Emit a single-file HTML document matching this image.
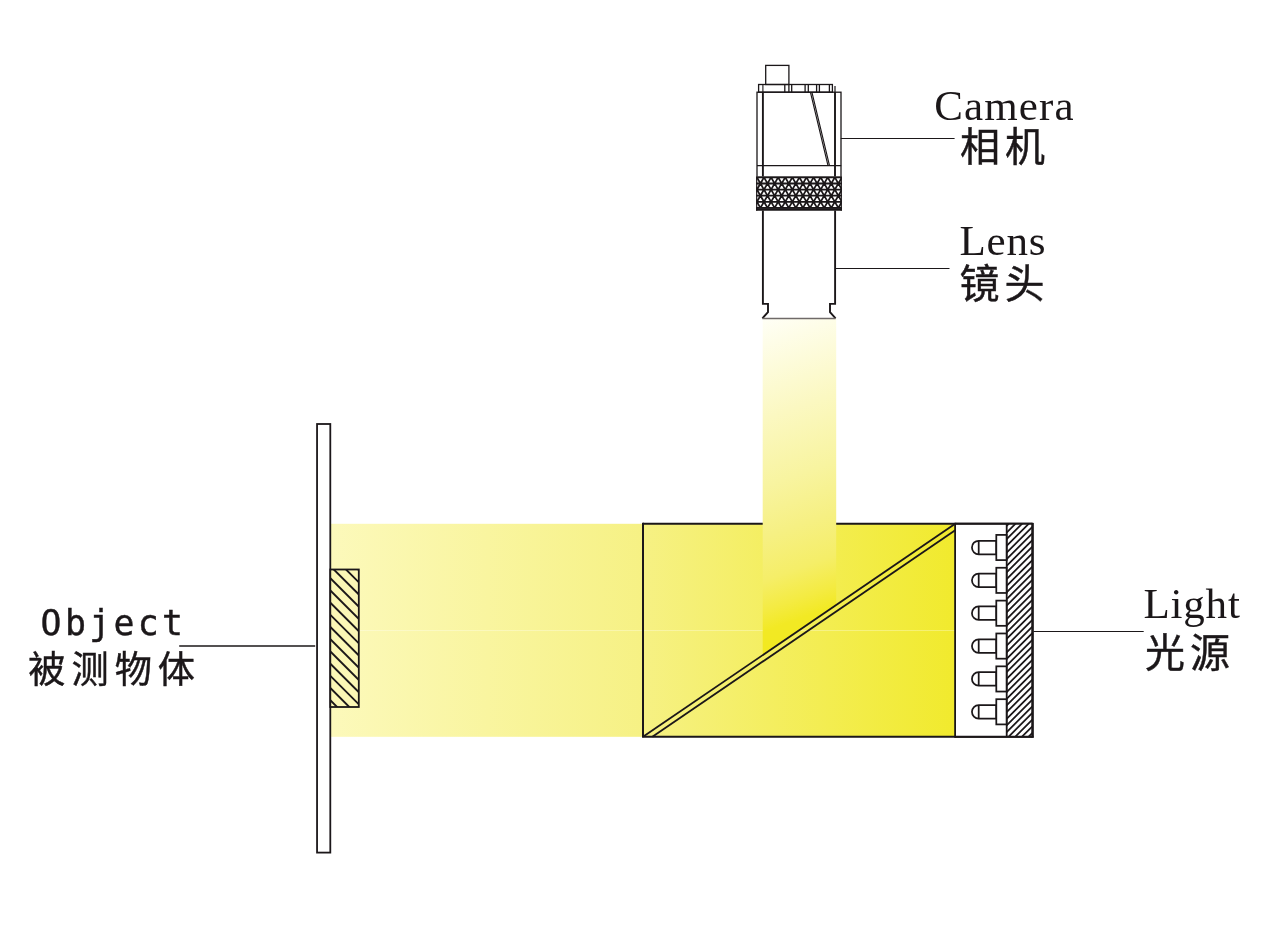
<!DOCTYPE html>
<html lang="zh">
<head>
<meta charset="utf-8">
<title>Object 被测物体 · Camera 相机 · Lens 镜头 · Light 光源</title>
<style>
html,body{margin:0;padding:0;background:#fff;}
body{width:1267px;height:940px;overflow:hidden;position:relative;}
figure{margin:0;padding:0;position:absolute;left:0;top:0;width:1267px;height:940px;}
svg{display:block;position:absolute;left:0;top:0;will-change:transform;}
.ln{stroke:#1b1719;fill:none;}
.en{font-family:"Liberation Serif",serif;font-size:43px;fill:#1b1719;letter-spacing:0.8px;}
.cn{font-family:"Liberation Sans","Noto Sans CJK SC",sans-serif;font-size:40px;fill:#1b1719;letter-spacing:5px;stroke:#1b1719;stroke-width:0.45px;}
.mono{font-family:"DejaVu Sans Mono","Liberation Mono",monospace;font-size:34.8px;fill:#1b1719;letter-spacing:3.35px;stroke:#1b1719;stroke-width:0.4px;}
</style>
</head>
<body>
<figure>
<svg width="1267" height="940" viewBox="0 0 1267 940" role="img" aria-label="Coaxial illumination diagram">
<defs>
<linearGradient id="gh" gradientUnits="userSpaceOnUse" x1="330" y1="0" x2="955" y2="0">
<stop offset="0" stop-color="#fcf9bb"/>
<stop offset="0.5" stop-color="#f6f184"/>
<stop offset="1" stop-color="#f1ea2d"/>
</linearGradient>
<linearGradient id="gv" gradientUnits="userSpaceOnUse" x1="762.7" y1="318.6" x2="871" y2="616.3">
<stop offset="0" stop-color="#fffff6"/>
<stop offset="0.3" stop-color="#fbf8c1"/>
<stop offset="0.5" stop-color="#f8f4a0"/>
<stop offset="0.65" stop-color="#f6f083"/>
<stop offset="0.78" stop-color="#f5ee68"/>
<stop offset="0.87" stop-color="#f4eb42"/>
<stop offset="0.93" stop-color="#f2e924"/>
<stop offset="1" stop-color="#f2e920"/>
</linearGradient>
<clipPath id="hclip"><rect x="1006.6" y="523.8" width="26" height="213"/></clipPath>
<clipPath id="knclip"><rect x="756.2" y="176.5" width="85.6" height="34.3"/></clipPath>
<clipPath id="objclip"><rect x="330.3" y="569.5" width="28.5" height="137.5"/></clipPath>
</defs>

<g id="beams">
<rect x="330.3" y="523.8" width="624.9" height="213" fill="url(#gh)"/>
<rect x="330.3" y="630" width="624.9" height="1" fill="#fff" opacity="0.3"/>
<path class="ln" d="M643,523.8 H1032.6" stroke-width="2"/>
<polygon points="762.7,318.6 836.2,318.6 836.2,604.99 762.7,655.13" fill="url(#gv)"/>
</g>
<g id="splitter" class="ln" stroke-width="2" stroke-linecap="square">
<path d="M643,523.8 V736.8 H1032.6"/>
<path d="M955.2,523.8 V736.8"/>
<path d="M643,736.8 L955.2,523.8" stroke-linecap="butt" stroke-width="1.85"/>
<path d="M652.4,736.8 L955.2,530.3" stroke-linecap="butt" stroke-width="1.85"/>
</g>
<g id="light">
<rect x="956" y="524.6" width="50.6" height="211.4" fill="#fff"/>
<rect x="1006.6" y="523.8" width="26" height="213" fill="#fff"/>
<path class="ln" clip-path="url(#hclip)" stroke-width="1.75" d="M1004.75,474.6 L1035.75,443.6 M1004.75,481.25 L1035.75,450.25 M1004.75,487.9 L1035.75,456.9 M1004.75,494.55 L1035.75,463.55 M1004.75,501.2 L1035.75,470.2 M1004.75,507.85 L1035.75,476.85 M1004.75,514.5 L1035.75,483.5 M1004.75,521.15 L1035.75,490.15 M1004.75,527.8 L1035.75,496.8 M1004.75,534.45 L1035.75,503.45 M1004.75,541.1 L1035.75,510.1 M1004.75,547.75 L1035.75,516.75 M1004.75,554.4 L1035.75,523.4 M1004.75,561.05 L1035.75,530.05 M1004.75,567.7 L1035.75,536.7 M1004.75,574.35 L1035.75,543.35 M1004.75,581 L1035.75,550 M1004.75,587.65 L1035.75,556.65 M1004.75,594.3 L1035.75,563.3 M1004.75,600.95 L1035.75,569.95 M1004.75,607.6 L1035.75,576.6 M1004.75,614.25 L1035.75,583.25 M1004.75,620.9 L1035.75,589.9 M1004.75,627.55 L1035.75,596.55 M1004.75,634.2 L1035.75,603.2 M1004.75,640.85 L1035.75,609.85 M1004.75,647.5 L1035.75,616.5 M1004.75,654.15 L1035.75,623.15 M1004.75,660.8 L1035.75,629.8 M1004.75,667.45 L1035.75,636.45 M1004.75,674.1 L1035.75,643.1 M1004.75,680.75 L1035.75,649.75 M1004.75,687.4 L1035.75,656.4 M1004.75,694.05 L1035.75,663.05 M1004.75,700.7 L1035.75,669.7 M1004.75,707.35 L1035.75,676.35 M1004.75,714 L1035.75,683 M1004.75,720.65 L1035.75,689.65 M1004.75,727.3 L1035.75,696.3 M1004.75,733.95 L1035.75,702.95 M1004.75,740.6 L1035.75,709.6 M1004.75,747.25 L1035.75,716.25 M1004.75,753.9 L1035.75,722.9 M1004.75,760.55 L1035.75,729.55 M1004.75,767.2 L1035.75,736.2 M1004.75,773.85 L1035.75,742.85 M1004.75,780.5 L1035.75,749.5 M1004.75,787.15 L1035.75,756.15 M1004.75,793.8 L1035.75,762.8 M1004.75,800.45 L1035.75,769.45 M1004.75,807.1 L1035.75,776.1 M1004.75,813.75 L1035.75,782.75 M1004.75,820.4 L1035.75,789.4 M1004.75,827.05 L1035.75,796.05 M1004.75,833.7 L1035.75,802.7 M1004.75,840.35 L1035.75,809.35 M1004.75,847 L1035.75,816 M1004.75,853.65 L1035.75,822.65 M1004.75,860.3 L1035.75,829.3 M1004.75,866.95 L1035.75,835.95"/>
<path class="ln" d="M1006.7,523.8 V736.8" stroke-width="1.8"/>
<path class="ln" d="M1032.55,522.9 V737.7" stroke-width="2.6"/>
<path class="ln" d="M955.2,523.8 H1032.6 M955.2,736.8 H1032.6" stroke-width="2"/>
<g stroke="#1b1719" stroke-width="1.75" fill="#fff">
<path d="M978.7,540.75 H996.3 V554.25 H978.7 A6.75,6.75 0 0 1 978.7,540.75 Z"/>
<path d="M978.7,540.75 V554.25" fill="none"/>
<rect x="996.3" y="534.9" width="10.3" height="25.2"/>
<path d="M978.7,573.61 H996.3 V587.11 H978.7 A6.75,6.75 0 0 1 978.7,573.61 Z"/>
<path d="M978.7,573.61 V587.11" fill="none"/>
<rect x="996.3" y="567.76" width="10.3" height="25.2"/>
<path d="M978.7,606.47 H996.3 V619.97 H978.7 A6.75,6.75 0 0 1 978.7,606.47 Z"/>
<path d="M978.7,606.47 V619.97" fill="none"/>
<rect x="996.3" y="600.62" width="10.3" height="25.2"/>
<path d="M978.7,639.33 H996.3 V652.83 H978.7 A6.75,6.75 0 0 1 978.7,639.33 Z"/>
<path d="M978.7,639.33 V652.83" fill="none"/>
<rect x="996.3" y="633.48" width="10.3" height="25.2"/>
<path d="M978.7,672.19 H996.3 V685.69 H978.7 A6.75,6.75 0 0 1 978.7,672.19 Z"/>
<path d="M978.7,672.19 V685.69" fill="none"/>
<rect x="996.3" y="666.34" width="10.3" height="25.2"/>
<path d="M978.7,705.05 H996.3 V718.55 H978.7 A6.75,6.75 0 0 1 978.7,705.05 Z"/>
<path d="M978.7,705.05 V718.55" fill="none"/>
<rect x="996.3" y="699.2" width="10.3" height="25.2"/>
</g>
</g>
<g id="object">
<rect x="317.05" y="424" width="13.25" height="428.6" fill="#fff" stroke="#1b1719" stroke-width="1.8"/>
<rect x="330.3" y="569.5" width="28.5" height="137.5" fill="#fbf7b6"/>
<path class="ln" clip-path="url(#objclip)" stroke-width="1.9" d="M328.3,539.6 L360.8,572.1 M328.3,551.8 L360.8,584.3 M328.3,564 L360.8,596.5 M328.3,576.2 L360.8,608.7 M328.3,588.4 L360.8,620.9 M328.3,600.6 L360.8,633.1 M328.3,612.8 L360.8,645.3 M328.3,625 L360.8,657.5 M328.3,637.2 L360.8,669.7 M328.3,649.4 L360.8,681.9 M328.3,661.6 L360.8,694.1 M328.3,673.8 L360.8,706.3 M328.3,686 L360.8,718.5 M328.3,698.2 L360.8,730.7 M328.3,710.4 L360.8,742.9 M328.3,722.6 L360.8,755.1"/>
<rect class="ln" x="330.3" y="569.5" width="28.5" height="137.5" stroke-width="1.8"/>
</g>
<g id="camera" class="ln" stroke-width="1.3">
<rect x="765.7" y="65.4" width="23.2" height="19.1"/>
<rect x="758.6" y="84.5" width="73.8" height="7.7"/>
<path d="M784.8,84.5 V92.2 M788.9,84.5 V92.2 M791.7,84.5 V92.2 M805.1,84.5 V92.2 M808.3,84.5 V92.2 M816.6,84.5 V92.2 M819.4,84.5 V92.2 M829.4,84.5 V92.2"/>
<rect x="757" y="92.2" width="84" height="84.7"/>
<path d="M762.9,92.2 V176.9 M835,92 V176.9" stroke-width="1.9"/>
<path d="M835,86 V92.2" stroke-width="1.2"/>
<path d="M757,165.6 H841.2"/>
<path d="M762.9,84.5 V92.2" stroke-width="1.1"/>
<path d="M810.4,92.2 L828,165.6 M811.9,92.2 L829.5,165.6" stroke-width="1.15"/>
</g>
<g id="ring">
<rect x="756.5" y="176.8" width="85" height="33.8" fill="#fff"/>
<g clip-path="url(#knclip)">
<path class="ln" stroke-width="1.8" d="M750,177.4 H850 M750,183.5 H850 M750,189.6 H850 M750,195.7 H850 M750,201.8 H850 M750,207.9 H850 M700.23,177.4 L717.94,207.9 M700.23,177.4 L682.52,207.9 M707.32,177.4 L725.02,207.9 M707.32,177.4 L689.61,207.9 M714.4,177.4 L732.11,207.9 M714.4,177.4 L696.69,207.9 M721.48,177.4 L739.19,207.9 M721.48,177.4 L703.77,207.9 M728.57,177.4 L746.27,207.9 M728.57,177.4 L710.86,207.9 M735.65,177.4 L753.36,207.9 M735.65,177.4 L717.94,207.9 M742.73,177.4 L760.44,207.9 M742.73,177.4 L725.02,207.9 M749.82,177.4 L767.52,207.9 M749.82,177.4 L732.11,207.9 M756.9,177.4 L774.61,207.9 M756.9,177.4 L739.19,207.9 M763.98,177.4 L781.69,207.9 M763.98,177.4 L746.27,207.9 M771.07,177.4 L788.77,207.9 M771.07,177.4 L753.36,207.9 M778.15,177.4 L795.86,207.9 M778.15,177.4 L760.44,207.9 M785.23,177.4 L802.94,207.9 M785.23,177.4 L767.52,207.9 M792.32,177.4 L810.02,207.9 M792.32,177.4 L774.61,207.9 M799.4,177.4 L817.11,207.9 M799.4,177.4 L781.69,207.9 M806.48,177.4 L824.19,207.9 M806.48,177.4 L788.77,207.9 M813.57,177.4 L831.27,207.9 M813.57,177.4 L795.86,207.9 M820.65,177.4 L838.36,207.9 M820.65,177.4 L802.94,207.9 M827.73,177.4 L845.44,207.9 M827.73,177.4 L810.02,207.9 M834.82,177.4 L852.52,207.9 M834.82,177.4 L817.11,207.9 M841.9,177.4 L859.61,207.9 M841.9,177.4 L824.19,207.9 M848.98,177.4 L866.69,207.9 M848.98,177.4 L831.27,207.9 M856.07,177.4 L873.77,207.9 M856.07,177.4 L838.36,207.9 M863.15,177.4 L880.86,207.9 M863.15,177.4 L845.44,207.9 M870.23,177.4 L887.94,207.9 M870.23,177.4 L852.52,207.9 M877.32,177.4 L895.02,207.9 M877.32,177.4 L859.61,207.9 M884.4,177.4 L902.11,207.9 M884.4,177.4 L866.69,207.9 M891.48,177.4 L909.19,207.9 M891.48,177.4 L873.77,207.9"/>
<rect x="756" y="208.2" width="86" height="2.8" fill="#1b1719"/>
</g>
<path class="ln" d="M756.7,176.5 V210.8 M841.3,176.5 V210.8" stroke-width="1.2"/>
</g>
<g id="lens">
<path class="ln" d="M762.9,210.5 V303.9 H768 V312.1 L762.4,318.3 M835.1,210.5 V303.9 H830 V312.1 L835.6,318.3" stroke-width="1.9" stroke-linejoin="miter"/>
<path d="M762.4,318.4 H835.6" stroke="#6f6a68" stroke-width="1.5" fill="none"/>
</g>
<g id="leaders" class="ln" stroke-width="1.1">
<path d="M840.8,138.5 H954.6"/>
<path d="M835.8,268.5 H949.5"/>
<path d="M1033.5,631.5 H1143.7"/>
<path d="M179.2,646 H315.2" stroke-width="1.45"/>
</g>
<g id="labels">
<text class="en" x="934.3" y="120.3" style="letter-spacing:1.1px">Camera</text>
<text class="cn" x="960" y="160.5">相机</text>
<text class="en" x="959.5" y="255">Lens</text>
<text class="cn" x="959.5" y="297.7">镜头</text>
<text class="en" x="1143.5" y="617.6">Light</text>
<text class="cn" x="1145" y="666.5">光源</text>
<text class="mono" x="40.6" y="635">Object</text>
<text class="cn" x="28.3" y="682.8" style="font-size:37.2px;letter-spacing:6px">被测物体</text>
</g>
</svg>
</figure>
</body>
</html>
